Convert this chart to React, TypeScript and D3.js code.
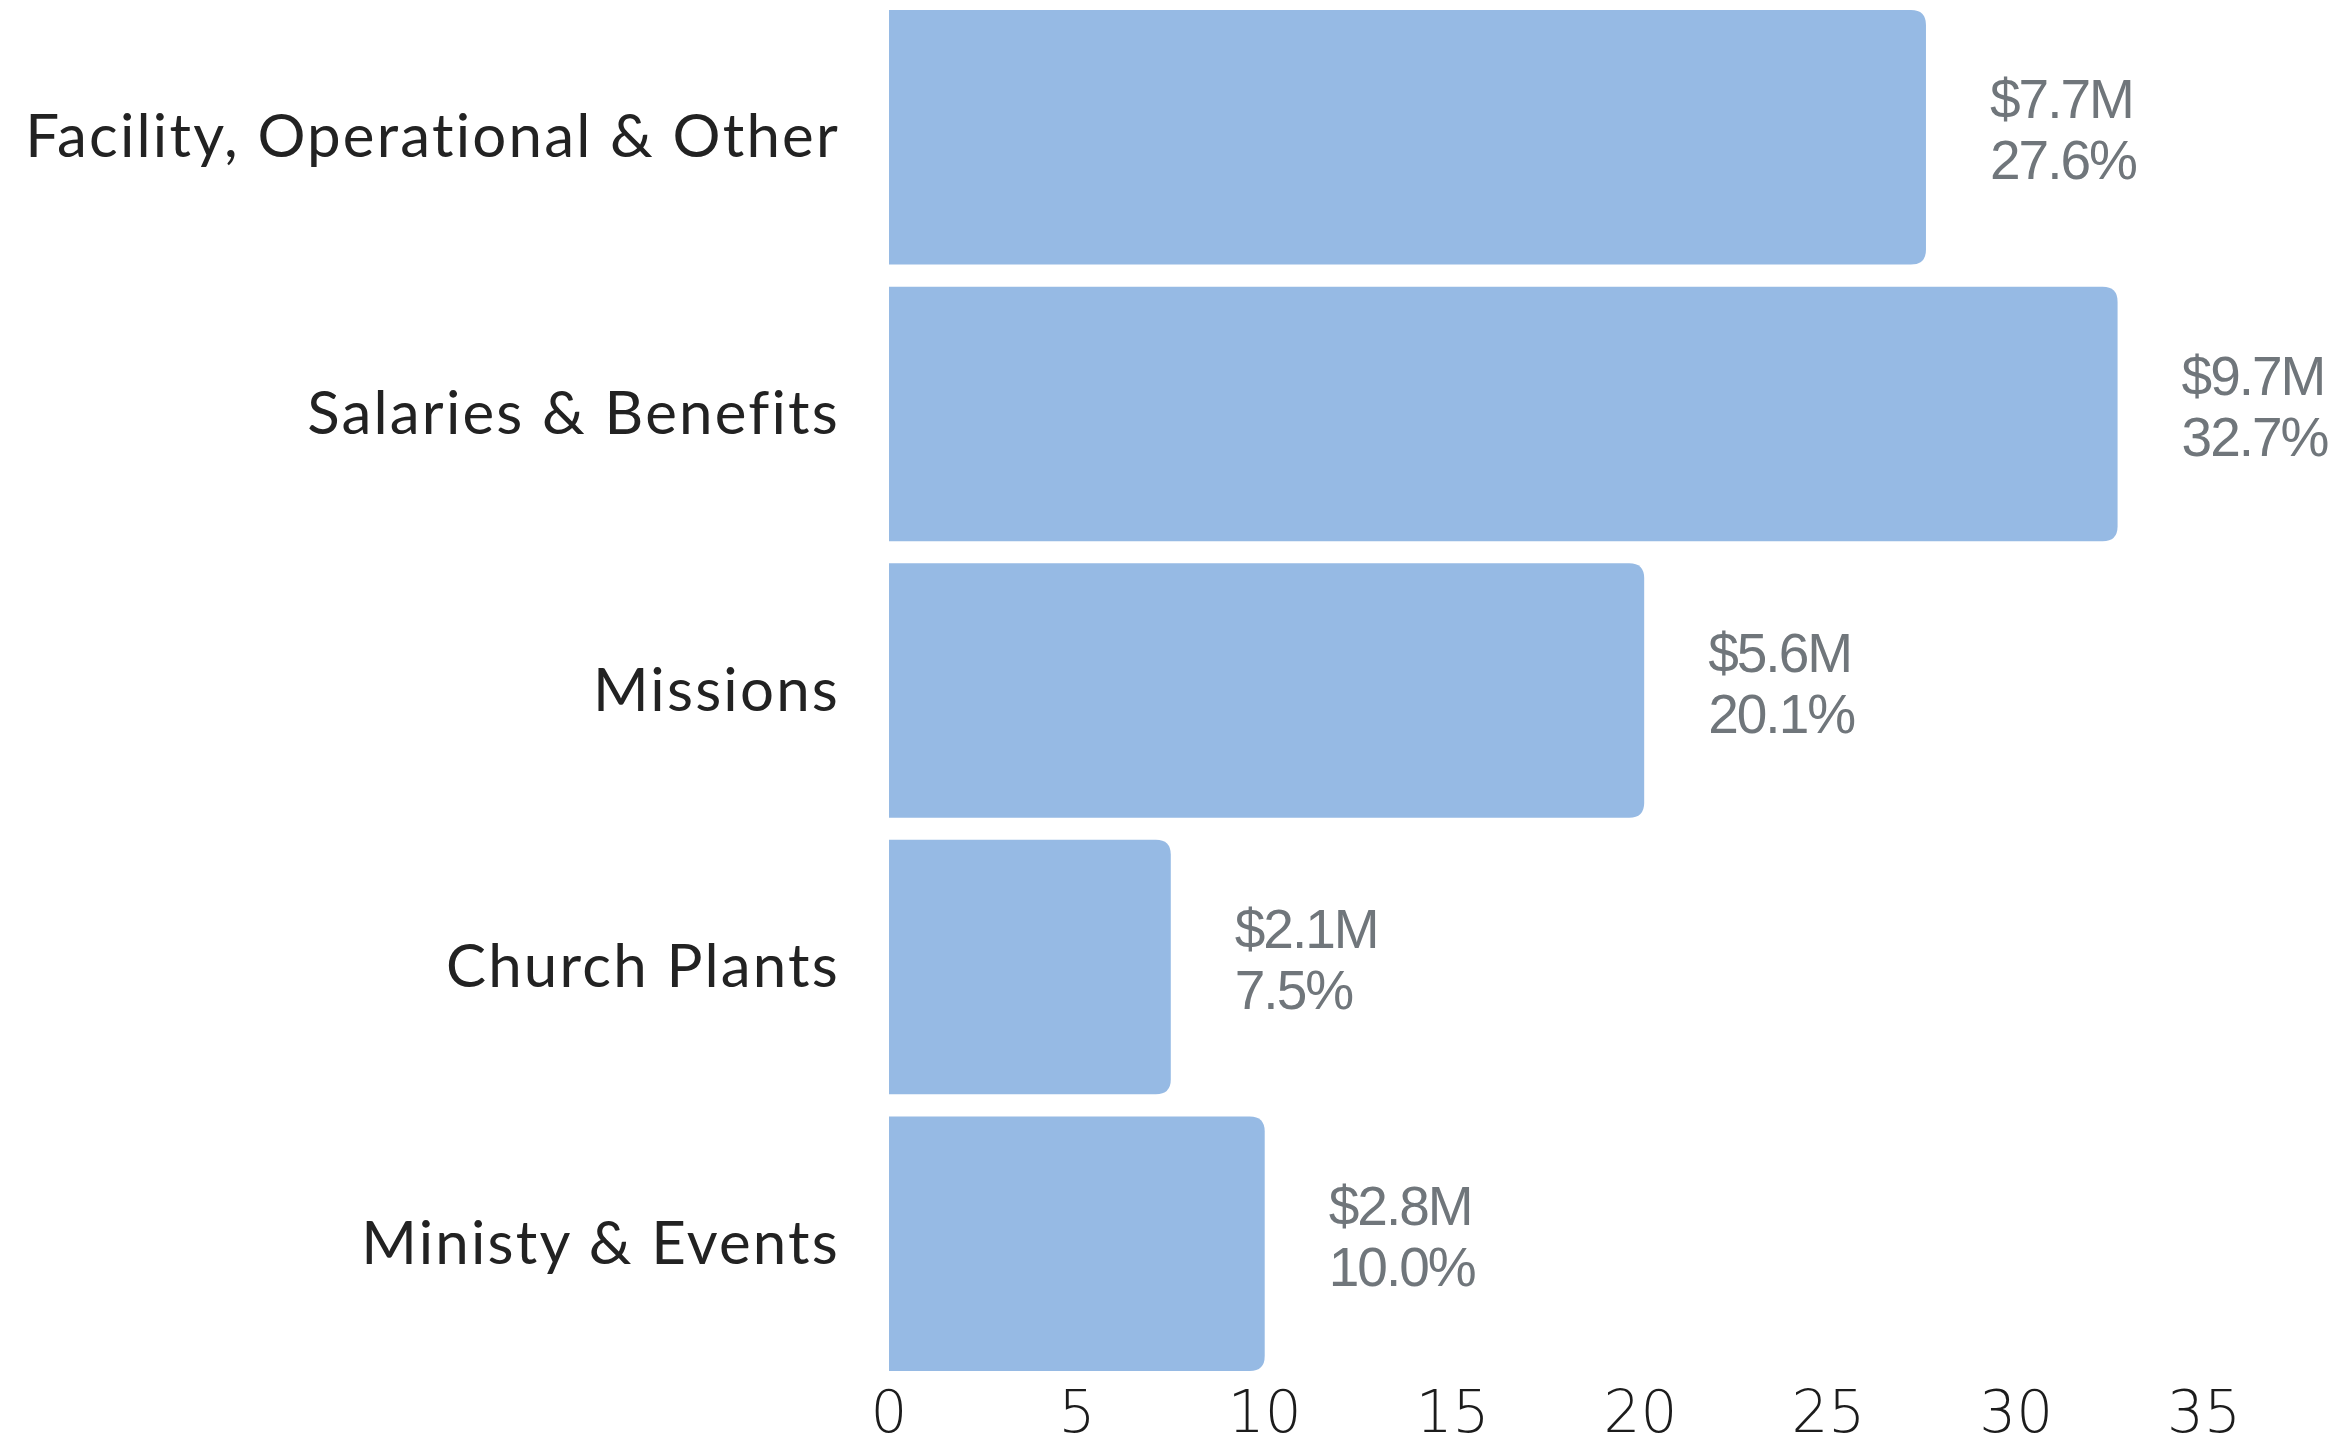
import React, { useEffect, useRef } from 'react';
import * as d3 from 'd3';

const categories = [
  'Facility, Operational & Other',
  'Salaries & Benefits',
  'Missions',
  'Church Plants',
  'Ministy & Events',
];
const percents = [27.6, 32.7, 20.1, 7.5, 10.0];
const amounts = ['$7.7M', '$9.7M', '$5.6M', '$2.1M', '$2.8M'];
const ticks = [0, 5, 10, 15, 20, 25, 30, 35];

const W = 2332;
const H = 1452;

export default function App() {
  const svgRef = useRef<SVGSVGElement>(null);

  useEffect(() => {
    document.body.style.margin = '0';
    if (!svgRef.current) return;
    const svg = d3.select(svgRef.current);
    svg.selectAll('*').remove();

    const x = d3.scaleLinear().domain([0, 35]).range([889, 2204]);
    const y = d3
      .scaleBand<string>()
      .domain(categories)
      .range([-1, 1382])
      .paddingInner(0.08)
      .paddingOuter(0.04);

    const r = 15;
    const bw = y.bandwidth();

    // bars, square on the left, rounded on the right
    svg
      .selectAll('.bar')
      .data(percents)
      .enter()
      .append('path')
      .attr('class', 'bar')
      .attr('fill', '#96bae4')
      .attr('d', (d, i) => {
        const x0 = x(0);
        const x1 = x(d);
        const y0 = y(categories[i])!;
        const y1 = y0 + bw;
        return `M${x0},${y0}H${x1 - r}Q${x1},${y0} ${x1},${y0 + r}V${y1 - r}Q${x1},${y1} ${x1 - r},${y1}H${x0}Z`;
      });

    // category labels
    svg
      .selectAll('.cat')
      .data(categories)
      .enter()
      .append('text')
      .attr('class', 'cat')
      .attr('x', 840)
      .attr('y', (d) => y(d)! + bw / 2 + 20)
      .attr('text-anchor', 'end')
      .attr('font-family', 'Lato, sans-serif')
      .attr('font-weight', 400)
      .attr('font-size', 60)
      .attr('letter-spacing', 2.2)
      .attr('fill', '#222')
      .text((d) => d);

    // value labels
    const vals = svg
      .selectAll('.val')
      .data(percents)
      .enter()
      .append('text')
      .attr('class', 'val')
      .attr('font-family', '"Liberation Sans", Arial, sans-serif')
      .attr('font-size', 55)
      .attr('letter-spacing', -2)
      .attr('fill', '#70767b');
    vals
      .append('tspan')
      .attr('x', (d) => x(d) + 64)
      .attr('y', (d, i) => y(categories[i])! + bw / 2 - 19)
      .text((d, i) => amounts[i]);
    vals
      .append('tspan')
      .attr('x', (d) => x(d) + 64)
      .attr('y', (d, i) => y(categories[i])! + bw / 2 + 42)
      .text((d) => `${d.toFixed(1)}%`);

    // x axis tick labels (no line, no ticks)
    svg
      .selectAll('.tick')
      .data(ticks)
      .enter()
      .append('text')
      .attr('class', 'tick')
      .attr('x', (d) => x(d))
      .attr('y', 1432)
      .attr('text-anchor', 'middle')
      .attr('font-family', '"DejaVu Sans", sans-serif')
      .attr('font-stretch', 'condensed')
      .attr('font-weight', 300)
      .attr('font-size', 58)
      .attr('fill', '#1c1c1c')
      .text((d) => String(d));
  }, []);

  return <svg ref={svgRef} width={W} height={H} style={{ display: 'block', background: '#fff' }} />;
}
